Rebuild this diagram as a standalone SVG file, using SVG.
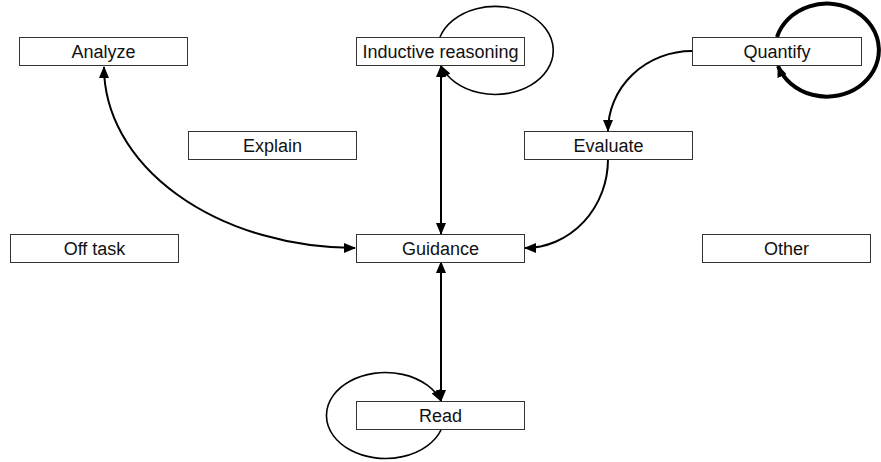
<svg xmlns="http://www.w3.org/2000/svg" width="881" height="462" viewBox="0 0 881 462">
<style>
.box{fill:#fff;stroke:#333;stroke-width:1}
.lbl{font-family:"Liberation Sans",Arial,sans-serif;font-size:18px;fill:#111;text-anchor:middle}
.c{fill:none;stroke:#000;stroke-width:2}
.thin{stroke-width:1.6}
.thick{stroke-width:4}
</style>
<defs>
<marker id="ah" markerUnits="userSpaceOnUse" markerWidth="12" markerHeight="10" refX="11" refY="5" orient="auto-start-reverse" viewBox="0 0 12 10">
<path d="M0,0 L12,5 L0,10 z" fill="#000"/>
</marker>
</defs>
<g id="connectors">
<path class="c" d="M104,67 A252,181 0 0 0 355,248" marker-start="url(#ah)" marker-end="url(#ah)"/>
<path class="c" d="M441,66 L441,234" marker-start="url(#ah)" marker-end="url(#ah)"/>
<path class="c" d="M441,262 L441,401" marker-start="url(#ah)" marker-end="url(#ah)"/>
<path class="c" d="M692,51 A84,80 0 0 0 608,131" marker-end="url(#ah)"/>
<path class="c" d="M608,159 A83,89 0 0 1 525,248" marker-end="url(#ah)"/>
<path class="c thin" d="M440,37 A58,44 0 1 1 441,66" marker-end="url(#ah)"/>
<path class="c thick" d="M777,37 A52,46.5 0 1 1 778,66" marker-end="url(#ah)"/>
<path class="c thin" d="M441,430 A59,43 0 1 1 441,401" marker-end="url(#ah)"/>
</g>
<g id="analyze"><rect class="box" x="19.5" y="37.5" width="168" height="28"/><text class="lbl" x="103.5" y="58">Analyze</text></g>
<g id="inductive"><rect class="box" x="356.5" y="37.5" width="168" height="28"/><text class="lbl" x="440.5" y="58">Inductive reasoning</text></g>
<g id="quantify"><rect class="box" x="692.5" y="37.5" width="169" height="28"/><text class="lbl" x="777" y="58">Quantify</text></g>
<g id="explain"><rect class="box" x="188.5" y="131.5" width="168" height="28"/><text class="lbl" x="272.5" y="152">Explain</text></g>
<g id="evaluate"><rect class="box" x="524.5" y="131.5" width="168" height="28"/><text class="lbl" x="608.5" y="152">Evaluate</text></g>
<g id="offtask"><rect class="box" x="10.5" y="234.5" width="168" height="28"/><text class="lbl" x="94.5" y="255">Off task</text></g>
<g id="guidance"><rect class="box" x="356.5" y="234.5" width="168" height="28"/><text class="lbl" x="440.5" y="255">Guidance</text></g>
<g id="other"><rect class="box" x="702.5" y="234.5" width="168" height="28"/><text class="lbl" x="786.5" y="255">Other</text></g>
<g id="read"><rect class="box" x="356.5" y="401.5" width="168" height="28"/><text class="lbl" x="440.5" y="422">Read</text></g>
</svg>
